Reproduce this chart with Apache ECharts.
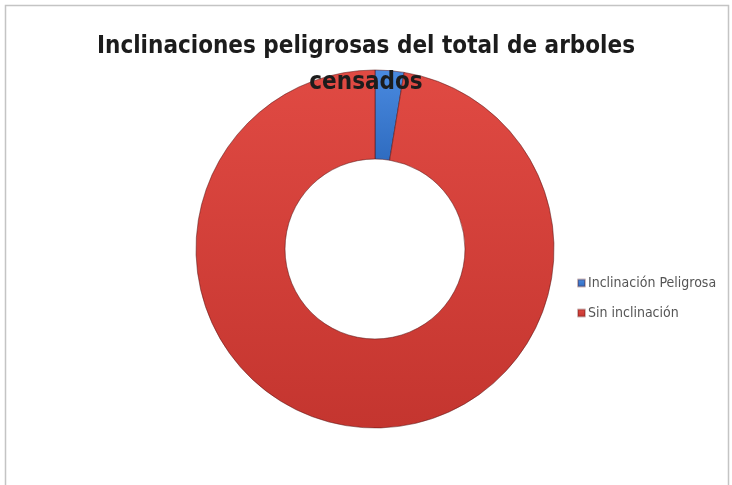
<!DOCTYPE html>
<html>
<head>
<meta charset="utf-8">
<script src="https://cdn.jsdelivr.net/npm/echarts@6/dist/echarts.min.js"></script>
<style>
  html, body { margin: 0; padding: 0; background: #fff; }
  #chart { width: 732px; height: 485px; }
</style>
</head>
<body>
<div id="chart"></div>
<script>
// categorias y valores (porcentaje aproximado)
var categorias = ['Inclinación Peligrosa', 'Sin inclinación']
var valores = [2.6, 97.4]
var coloresClaros = ['#4a8ae0', '#e04a43']
var coloresOscuros = ['#2f6cc0', '#c4352f']

var fuente = "'DejaVu Sans Condensed', 'Liberation Sans', sans-serif"

var chart = echarts.init(document.getElementById('chart'))

var datos = []
for (var i = 0; i < categorias.length; i++) {
  datos.push({ name: categorias[i], value: valores[i] })
}

var option = {
  backgroundColor: '#ffffff',
  title: {
    text: 'Inclinaciones peligrosas del total de arboles\ncensados',
    left: 'center',
    top: 24,
    textStyle: {
      fontFamily: fuente,
      fontWeight: 'bold',
      fontSize: 24,
      lineHeight: 36,
      color: '#1c1c1c'
    }
  },
  legend: {
    orient: 'vertical',
    left: 572,
    top: 271,
    icon: 'rect',
    itemWidth: 7,
    itemHeight: 7,
    itemGap: 16,
    data: categorias,
    textStyle: {
      fontFamily: fuente,
      fontSize: 14,
      color: '#555555',
      padding: [0, 0, 0, -2]
    }
  },
  graphic: [{
    type: 'rect',
    shape: { x: 5.5, y: 5.5, width: 723, height: 500 },
    style: { fill: 'none', stroke: '#c4c4c4', lineWidth: 1.5 },
    z: 0
  }],
  series: [{
    type: 'pie',
    center: [375, 249],
    radius: [90, 179],
    startAngle: 90,
    clockwise: true,
    silent: true,
    label: { show: false },
    labelLine: { show: false },
    itemStyle: {
      borderColor: 'rgba(90,20,20,0.3)',
      borderWidth: 1
    },
    data: datos.map(function (d, i) {
      return {
        name: d.name,
        value: d.value,
        itemStyle: {
          color: new echarts.graphic.LinearGradient(0, 0, 0, 1, [
            { offset: 0, color: coloresClaros[i] },
            { offset: 1, color: coloresOscuros[i] }
          ], false)
        }
      }
    })
  }]
}

chart.setOption(option)
</script>
</body>
</html>
